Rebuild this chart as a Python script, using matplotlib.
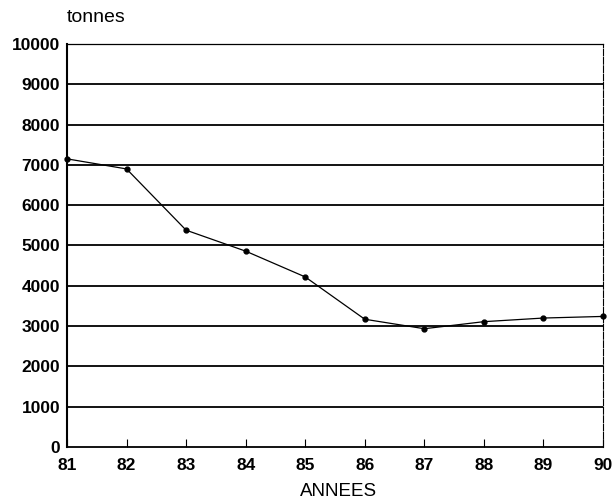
import matplotlib
matplotlib.use("Agg")
import matplotlib.pyplot as plt

years = [81, 82, 83, 84, 85, 86, 87, 88, 89, 90]
tonnes = [7150, 6900, 5380, 4860, 4220, 3170, 2935, 3110, 3200, 3240]
year_labels = [str(y) for y in years]
y_ticks = list(range(0, 10001, 1000))

plt.rcParams['font.family'] = ['Liberation Sans', 'DejaVu Sans']

fig = plt.figure(figsize=(6.15, 5.04), dpi=100)
ax = fig.add_axes([67 / 615, 1 - 447 / 504, (603 - 67) / 615, (447 - 44) / 504])

ax.set_xlim(81, 90)
ax.set_ylim(0, 10000)

# horizontal grid lines at every 1000 t
for v in y_ticks[1:-1]:
    ax.axhline(v, color='black', linewidth=1.3, zorder=1)

ax.plot(years, tonnes, color='black', linewidth=0.9, marker='o',
        markersize=3.5, zorder=3, clip_on=False)

ax.set_xticks(years)
ax.set_xticklabels(year_labels, fontsize=12.5, fontweight='bold')
ax.set_yticks(y_ticks)
ax.set_yticklabels([str(v) for v in y_ticks], fontsize=12.5, fontweight='bold')
ax.tick_params(axis='x', direction='in', length=6, width=0.8, pad=8)
ax.tick_params(axis='y', direction='in', length=0, pad=5)

ax.spines['left'].set_linewidth(1.5)
ax.spines['bottom'].set_linewidth(1.3)
ax.spines['top'].set_linewidth(0.9)
ax.spines['right'].set_linewidth(0.8)
ax.spines['right'].set_linestyle((0, (6, 1.5)))

fig.text(67 / 615, 1 - 18 / 504, 'tonnes', fontsize=14, ha='left', va='center')
fig.text(339 / 615, 1 - 492 / 504, 'ANNEES', fontsize=13.5, ha='center', va='center')

fig.savefig('out.png', dpi=100)
